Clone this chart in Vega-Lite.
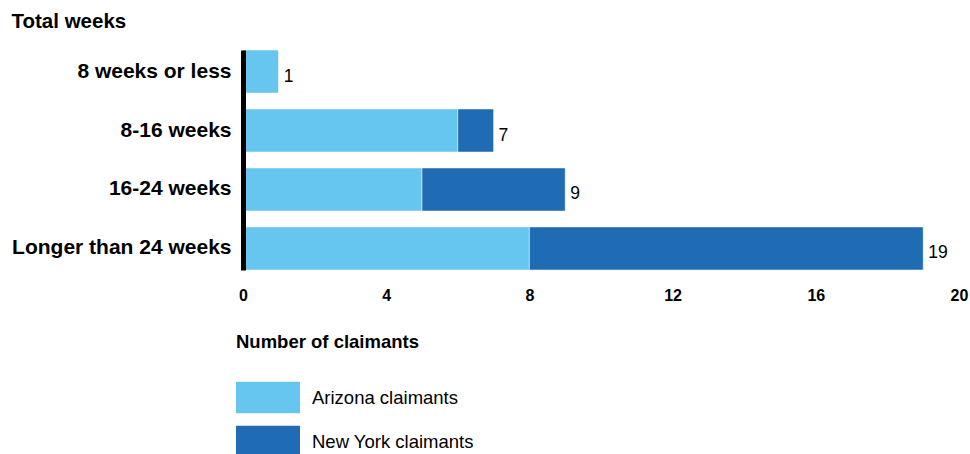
{
  "$schema": "https://vega.github.io/schema/vega-lite/v6.json",
  "autosize": {"type": "none"},
  "padding": {"left": 243, "top": 50, "right": 11, "bottom": 184},
  "width": 716,
  "height": 220,
  "background": "white",
  "config": {
    "font": "Liberation Sans",
    "view": {"stroke": null}
  },
  "data": {
    "values": [
      {"weeks": "8 weeks or less", "state": "Arizona claimants", "claimants": 1},
      {"weeks": "8 weeks or less", "state": "New York claimants", "claimants": 0},
      {"weeks": "8-16 weeks", "state": "Arizona claimants", "claimants": 6},
      {"weeks": "8-16 weeks", "state": "New York claimants", "claimants": 1},
      {"weeks": "16-24 weeks", "state": "Arizona claimants", "claimants": 5},
      {"weeks": "16-24 weeks", "state": "New York claimants", "claimants": 4},
      {"weeks": "Longer than 24 weeks", "state": "Arizona claimants", "claimants": 8},
      {"weeks": "Longer than 24 weeks", "state": "New York claimants", "claimants": 11}
    ]
  },
  "encoding": {
    "y": {
      "field": "weeks",
      "type": "nominal",
      "sort": ["8 weeks or less", "8-16 weeks", "16-24 weeks", "Longer than 24 weeks"],
      "scale": {"paddingInner": 0.27, "paddingOuter": 0},
      "axis": {
        "title": "Total weeks",
        "titleAngle": 0,
        "titleAlign": "left",
        "titleBaseline": "alphabetic",
        "titleX": -232,
        "titleY": -23,
        "titleFontSize": 20.5,
        "titleFontWeight": "bold",
        "titleColor": "black",
        "domain": true,
        "domainColor": "black",
        "domainWidth": 5,
        "ticks": false,
        "tickSize": 0,
        "labelFontSize": 21,
        "labelFontWeight": "bold",
        "labelColor": "black",
        "labelPadding": 12,
        "labelLimit": 400,
        "zindex": 1
      }
    }
  },
  "layer": [
    {
      "mark": {"type": "bar", "stroke": "white", "strokeWidth": 0.5},
      "encoding": {
        "x": {
          "field": "claimants",
          "type": "quantitative",
          "stack": "zero",
          "scale": {"domain": [0, 20], "nice": false},
          "axis": {
            "title": null,
            "values": [0, 4, 8, 12, 16, 20],
            "grid": false,
            "domain": false,
            "ticks": false,
            "tickSize": 0,
            "labelFlush": false,
            "labelFontSize": 16,
            "labelFontWeight": "bold",
            "labelColor": "black",
            "labelPadding": 17
          }
        },
        "color": {
          "field": "state",
          "type": "nominal",
          "scale": {
            "domain": ["Arizona claimants", "New York claimants"],
            "range": ["#66c6f0", "#1f6bb4"]
          },
          "legend": {
            "title": "Number of claimants",
            "orient": "none",
            "legendX": -7,
            "legendY": 283,
            "direction": "vertical",
            "padding": 0,
            "titleFontSize": 18.5,
            "titleFontWeight": "bold",
            "titleColor": "black",
            "titleLimit": 500,
            "titlePadding": 30,
            "symbolType": "M-1,-0.5H1V0.5H-1Z",
            "symbolSize": 4096,
            "symbolStrokeWidth": 0,
            "symbolOpacity": 1,
            "clipHeight": 32,
            "rowPadding": 12,
            "labelOffset": 12,
            "labelFontSize": 18.5,
            "labelColor": "black",
            "labelLimit": 400
          }
        },
        "order": {"field": "state", "sort": "ascending"}
      }
    },
    {
      "mark": {"type": "text", "align": "left", "baseline": "middle", "dx": 5, "dy": 5, "fontSize": 17.5, "color": "black"},
      "encoding": {
        "x": {"aggregate": "sum", "field": "claimants", "type": "quantitative"},
        "text": {"aggregate": "sum", "field": "claimants", "type": "quantitative"}
      }
    }
  ]
}
